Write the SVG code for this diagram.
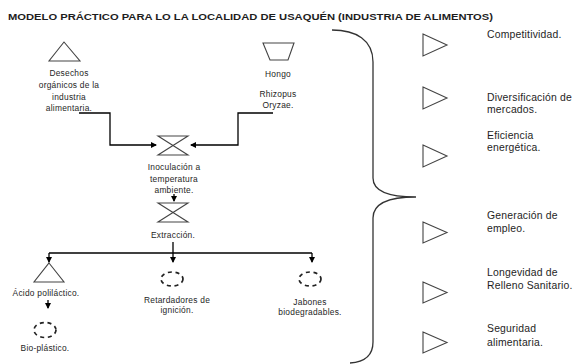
<svg xmlns="http://www.w3.org/2000/svg" width="574" height="364" viewBox="0 0 574 364">
<style>
.t{font-family:"Liberation Sans",Arial,sans-serif;fill:#1e1e1e}
.s{font-size:8.4px;letter-spacing:0.25px}
.r{font-size:10.4px;letter-spacing:0.2px}
.sh{fill:none;stroke:#444;stroke-width:1.1}
.ln{fill:none;stroke:#000;stroke-width:1.3}
.dc{fill:none;stroke:#222;stroke-width:1.7;stroke-dasharray:4 3.7}
</style>
<defs>
<marker id="ah" markerWidth="6" markerHeight="6" refX="5" refY="3" orient="auto" markerUnits="userSpaceOnUse">
<path d="M0,0 L6,3 L0,6 Z" fill="#000"/>
</marker>
</defs>
<rect width="574" height="364" fill="#fff"/>
<text class="t" x="8" y="20" font-size="9.8" font-weight="bold" textLength="485" lengthAdjust="spacingAndGlyphs" fill="#000">MODELO PRÁCTICO PARA LO LA LOCALIDAD DE USAQUÉN (INDUSTRIA DE ALIMENTOS)</text>

<g id="desechos">
<path class="sh" d="M64,42 L80,61 L49,61 Z"/>
<text class="t s" text-anchor="middle"><tspan x="69" y="76">Desechos</tspan><tspan x="69" y="88">orgánicos de la</tspan><tspan x="69" y="100">industria</tspan><tspan x="69" y="110.5">alimentaria.</tspan></text>
</g>
<g id="hongo">
<path class="sh" d="M263,43 L294,43 L288,60 L270,60 Z"/>
<text class="t s" text-anchor="middle"><tspan x="278" y="76.5">Hongo</tspan><tspan x="278" y="96.5">Rhizopus</tspan><tspan x="278" y="108">Oryzae.</tspan></text>
</g>
<g id="inoculacion">
<path class="sh" d="M158,136 L188,136 L158,155 L188,155 Z"/>
<text class="t s" text-anchor="middle"><tspan x="174" y="170">Inoculación a</tspan><tspan x="174" y="181.5">temperatura</tspan><tspan x="174" y="193">ambiente.</tspan></text>
</g>
<g id="extraccion">
<path class="sh" d="M158,203 L188,203 L158,222 L188,222 Z"/>
<text class="t s" text-anchor="middle" x="173" y="238">Extracción.</text>
</g>
<g id="acido">
<path class="sh" d="M49,263 L64,282 L34,282 Z"/>
<text class="t s" text-anchor="middle" x="46" y="296">Ácido poliláctico.</text>
</g>
<g id="bioplastico">
<ellipse class="dc" cx="45" cy="330" rx="11" ry="7.5"/>
<text class="t s" text-anchor="middle" x="45" y="351">Bio-plástico.</text>
</g>
<g id="retardadores">
<ellipse class="dc" cx="172" cy="279" rx="11" ry="7"/>
<text class="t s" text-anchor="middle"><tspan x="177" y="303">Retardadores de</tspan><tspan x="177" y="313">ignición.</tspan></text>
</g>
<g id="jabones">
<ellipse class="dc" cx="310" cy="279" rx="11" ry="7"/>
<text class="t s" text-anchor="middle"><tspan x="310" y="305">Jabones</tspan><tspan x="310" y="314.5">biodegradables.</tspan></text>
</g>

<g id="connectors">
<path class="ln" d="M79,113 L110,113 L110,145 L156,145" marker-end="url(#ah)"/>
<path class="ln" d="M273,113 L238,113 L238,145 L191,145" marker-end="url(#ah)"/>
<path class="ln" d="M174,194 L174,201" marker-end="url(#ah)"/>
<path class="ln" d="M173,242 L173,262" marker-end="url(#ah)"/>
<path class="ln" d="M49,253 L312,253"/>
<path class="ln" d="M49,253 L49,262" marker-end="url(#ah)"/>
<path class="ln" d="M312,253 L312,262" marker-end="url(#ah)"/>
<path class="ln" d="M48,300 L48,308" marker-end="url(#ah)"/>
</g>

<g id="brace">
<path d="M332,30 C356,30 373,40 373,62 L373,178 C373,192 390,197 416,197 C390,197 373,203 373,218 L373,342 C373,355 365,362 350,363" fill="none" stroke="#333" stroke-width="1.3"/>
</g>

<g id="beneficios">
<path class="sh" d="M423,34 L447,45 L423,56 Z"/>
<path class="sh" d="M423,87 L447,98 L423,109 Z"/>
<path class="sh" d="M423,145 L447,156 L423,167 Z"/>
<path class="sh" d="M423,222 L447,232.5 L423,243 Z"/>
<path class="sh" d="M423,282 L447,292.5 L423,303 Z"/>
<path class="sh" d="M423,332 L447,342.5 L423,353 Z"/>
<text class="t r" x="487" y="37.5">Competitividad.</text>
<text class="t r"><tspan x="487" y="100.5">Diversificación de</tspan><tspan x="487" y="112.5">mercados.</tspan></text>
<text class="t r"><tspan x="487" y="138.5">Eficiencia</tspan><tspan x="487" y="150.5">energética.</tspan></text>
<text class="t r"><tspan x="487" y="218.5">Generación de</tspan><tspan x="487" y="231.5">empleo.</tspan></text>
<text class="t r"><tspan x="487" y="275.5">Longevidad de</tspan><tspan x="487" y="288.5">Relleno Sanitario.</tspan></text>
<text class="t r"><tspan x="487" y="331.5">Seguridad</tspan><tspan x="487" y="345.5">alimentaria.</tspan></text>
</g>
</svg>
